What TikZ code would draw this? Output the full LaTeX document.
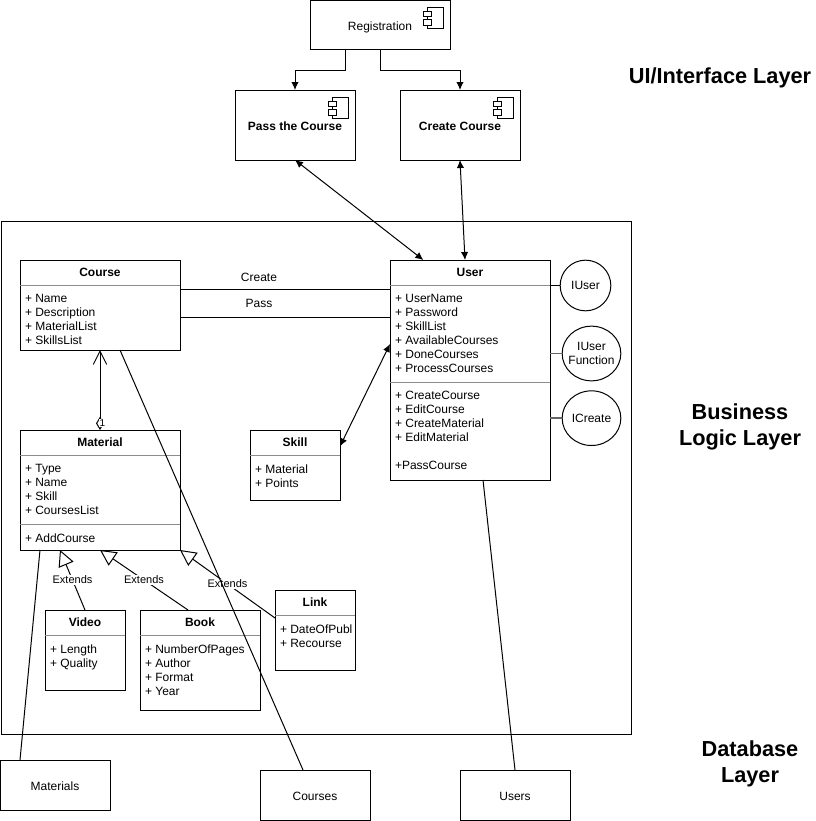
\documentclass[tikz,border=0pt]{standalone}
\usepackage{fontspec}
\setmainfont{Liberation Sans}
\usetikzlibrary{positioning, arrows.meta, shapes.geometric}

\begin{document}
\begin{tikzpicture}[
    x=0.75pt,
    y=-0.75pt,
    line width=0.75pt,
    font=\fontsize{9}{10.5}\selectfont,
    box/.style={
        draw,
        inner sep=0pt,
        outer sep=0pt,
        align=center,
        text height=8.5pt,
        text depth=0pt,
        minimum width=82.5pt,
        minimum height=37.5pt
    },
    compbox/.style={
        box,
        minimum width=90pt,
        minimum height=52.5pt
    },
    classbox/.style={
        draw,
        anchor=north west,
        inner sep=0pt,
        outer sep=0pt
    },
    classtitle/.style={
        anchor=north,
        inner sep=0pt,
        outer sep=0pt,
        minimum height=18.75pt,
        font=\fontsize{9}{10.5}\selectfont\bfseries
    },
    members/.style={
        anchor=north west,
        align=left,
        inner xsep=3.75pt,
        inner ysep=7pt,
        outer sep=0pt
    },
    divider/.style={
        draw=black!45
    },
    iface/.style={
        draw,
        ellipse,
        align=center,
        inner sep=0pt,
        inner xsep=-3pt,
        outer sep=0pt,
        minimum width=44pt,
        minimum height=41pt
    },
    stub/.style={
        draw=black!60,
        line width=1.2pt
    },
    arrow/.style={
        -{Latex[length=6pt,width=5.5pt]}
    },
    biarrow/.style={
        {Latex[length=6pt,width=5.5pt]}-{Latex[length=6pt,width=5.5pt]}
    },
    extends/.style={
        -{Triangle[open,length=12pt,width=12pt]}
    },
    extlabel/.style={
        midway,
        fill=white,
        inner sep=1pt,
        font=\fontsize{8.25}{10}\selectfont
    },
    layer/.style={
        align=center,
        font=\fontsize{16.3}{19.5}\selectfont\bfseries
    },
    compicon/.pic={
        \draw[line width=0.6pt] (4,0) rectangle (20,21);
        \draw[line width=0.6pt, fill=white] (0,4) rectangle (8,9);
        \draw[line width=0.6pt, fill=white] (0,12) rectangle (8,18);
    }
]
\useasboundingbox (0,0) rectangle (815,821);

% outer frame
\node[draw, anchor=north west, inner sep=0pt, outer sep=0pt,
    minimum width=472.5pt, minimum height=384.75pt] (frame) at (1,221) {};

% components
\node[compbox, minimum width=105pt, minimum height=36.75pt, anchor=north west] (reg) at (310,0) {Registration};
\node[compbox, anchor=north west, font=\fontsize{9}{10.5}\selectfont\bfseries] (pass) at (235,90) {Pass the Course};
\node[compbox, right=33.75pt of pass, font=\fontsize{9}{10.5}\selectfont\bfseries] (create) {Create Course};
\pic at (423,7) {compicon};
\pic at (328,97) {compicon};
\pic at (493,97) {compicon};

% Course
\node[classbox, minimum width=120pt, minimum height=67.5pt] (course) at (20,260) {};
\node[classtitle, below=0pt of course.north, minimum width=120pt] (coursetitle) {Course};
\node[members, below right=0pt and 0pt of coursetitle.south west] (coursemembers)
    {+ Name\\+ Description\\+ MaterialList\\+ SkillsList};
\draw[divider] (coursetitle.south west) -- (coursetitle.south east);

% Material
\node[classbox, anchor=north, minimum width=120pt, minimum height=90pt, below=60pt of course] (material) {};
\node[classtitle, below=0pt of material.north, minimum width=120pt] (materialtitle) {Material};
\node[members, below right=0pt and 0pt of materialtitle.south west] (materialmembers)
    {+ Type\\+ Name\\+ Skill\\+ CoursesList};
\coordinate[below=51.75pt of materialtitle.south west] (materialsplit);
\draw[divider] (materialtitle.south west) -- (materialtitle.south east);
\draw[divider] (materialsplit) -- ++(160,0);
\node[members, below right=0pt and 0pt of materialsplit] (materialops) {+ AddCourse};

% Video
\node[classbox, minimum width=60pt, minimum height=60pt] (video) at (45,610) {};
\node[classtitle, below=0pt of video.north, minimum width=60pt] (videotitle) {Video};
\node[members, below right=0pt and 0pt of videotitle.south west] (videomembers)
    {+ Length\\+ Quality};
\draw[divider] (videotitle.south west) -- (videotitle.south east);

% Book
\node[classbox, minimum width=90pt, minimum height=75pt] (book) at (140,610) {};
\node[classtitle, below=0pt of book.north, minimum width=90pt] (booktitle) {Book};
\node[members, below right=0pt and 0pt of booktitle.south west] (bookmembers)
    {+ NumberOfPages\\+ Author\\+ Format\\+ Year};
\draw[divider] (booktitle.south west) -- (booktitle.south east);

% Link
\node[classbox, minimum width=60pt, minimum height=60pt] (link) at (275,590) {};
\node[classtitle, below=0pt of link.north, minimum width=60pt] (linktitle) {Link};
\node[members, below right=0pt and 0pt of linktitle.south west] (linkmembers)
    {+ DateOfPubl\\+ Recourse};
\draw[divider] (linktitle.south west) -- (linktitle.south east);

% Skill
\node[classbox, minimum width=67.5pt, minimum height=52.5pt] (skill) at (250,430) {};
\node[classtitle, below=0pt of skill.north, minimum width=67.5pt] (skilltitle) {Skill};
\node[members, below right=0pt and 0pt of skilltitle.south west] (skillmembers)
    {+ Material\\+ Points};
\draw[divider] (skilltitle.south west) -- (skilltitle.south east);

% User
\node[classbox, minimum width=120pt, minimum height=165pt] (user) at (390,260) {};
\node[classtitle, below=0pt of user.north, minimum width=120pt] (usertitle) {User};
\node[members, below right=0pt and 0pt of usertitle.south west] (usermembers)
    {+ UserName\\+ Password\\+ SkillList\\+ AvailableCourses\\+ DoneCourses\\+ ProcessCourses};
\coordinate[below=72.75pt of usertitle.south west] (usersplit);
\draw[divider] (usertitle.south west) -- (usertitle.south east);
\draw[divider] (usersplit) -- ++(160,0);
\node[members, below right=0pt and 0pt of usersplit] (userops)
    {+ CreateCourse\\+ EditCourse\\+ CreateMaterial\\+ EditMaterial\\[10.5pt]+PassCourse};

% interfaces
\node[iface, minimum width=38pt, minimum height=38pt] (iuser) at (585.5,285.5) {IUser};
\node[iface] (iuserfn) at (591.5,353.5) {IUser\\Function};
\node[iface, below=7.5pt of iuserfn] (icreate) {ICreate};

% tables
\node[box, anchor=north west] (materials) at (0,760) {Materials};
\node[box, anchor=north west] (courses) at (260,770) {Courses};
\node[box, right=67.5pt of courses] (users) {Users};

% layer titles
\node[layer] (uilayer) at (720,77.5) {UI/Interface Layer};
\node[layer] (bllayer) at (740,427) {Business\\Logic Layer};
\node[layer] (dblayer) at (750,764) {Database\\Layer};

\draw[arrow] ([xshift=-26pt]reg.south) -- ++(0,21) -| (pass.north);
\draw[arrow] (reg.south) -- ++(0,21) -| (create.north);
\draw[biarrow] (pass.south) -- ([xshift=-35pt]user.north);
\draw[biarrow] (create.south) -- ([xshift=-3.75pt]user.north);
\draw[biarrow] ([yshift=14pt]skill.east) -- ([yshift=19.5pt]user.west);

\draw ([yshift=12pt]course.east) -- node[pos=.376, above=2pt] {Create} ([yshift=60.75pt]user.west);
\draw ([yshift=-9pt]course.east) -- node[pos=.376, above=3pt] {Pass} ([yshift=39.75pt]user.west);

\draw[{Diamond[open,length=10pt,width=6pt]}-{Straight Barb[length=10pt,width=10pt]}] (material.north) -- (course.south);
\node[fill=white, inner sep=0.3pt, font=\fontsize{7.5}{9}\selectfont] (one) at (102.5,423) {1};

\draw[extends] (video.north) -- node[extlabel] {Extends} ([xshift=-30pt]material.south);
\draw[extends] ([xshift=-9pt]book.north) -- node[extlabel] {Extends} (material.south);
\draw[extends] ([yshift=9pt]link.west) -- node[extlabel] {Extends} (material.south east);

\draw ([xshift=-45pt]material.south) -- ([xshift=-26.25pt]materials.north);
\draw ([xshift=15pt]course.south) -- ([xshift=-9pt]courses.north);
\draw ([xshift=9.75pt]user.south) -- (users.north);

\draw (user.east |- iuser.west) -- (iuser.west);
\draw[stub] (user.east |- iuserfn.west) -- (iuserfn.west);
\draw[stub] (user.east |- icreate.west) -- (icreate.west);

\end{tikzpicture}
\end{document}
